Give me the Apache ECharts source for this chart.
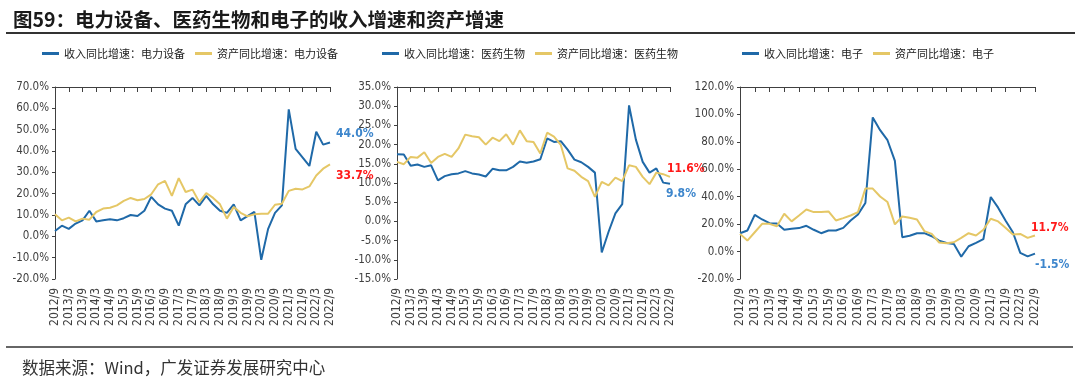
<!DOCTYPE html>
<html><head><meta charset="utf-8">
<script src="https://cdn.jsdelivr.net/npm/echarts@6/dist/echarts.min.js"></script>
<style>html,body{margin:0;padding:0;background:#fff}#c{width:1080px;height:381px}</style>
</head><body><div id="c"></div>
<script>
const categories = ['2012/9','2012/12','2013/3','2013/6','2013/9','2013/12','2014/3','2014/6','2014/9','2014/12',
'2015/3','2015/6','2015/9','2015/12','2016/3','2016/6','2016/9','2016/12','2017/3','2017/6','2017/9','2017/12',
'2018/3','2018/6','2018/9','2018/12','2019/3','2019/6','2019/9','2019/12','2020/3','2020/6','2020/9','2020/12',
'2021/3','2021/6','2021/9','2021/12','2022/3','2022/6','2022/9'];

const elecEquipRevenue = [2.5,5,3.5,6,7.5,12,7,7.5,8,7.5,8.5,10,9.5,12,18.5,15,13,12,5,15,18,14.5,19,15,12,11,15,7.5,9.5,11.5,-11,3.5,11,14.5,59.5,41,37,33,49,43,44.0];
const elecEquipAssets = [10.3,7.5,8.8,7,8.3,7.8,11.4,13,13.4,14.5,16.6,18,16.9,17.5,19.7,24.4,26,19,27.3,20.8,21.9,16,20.3,18,15,8.3,13.8,11,9.4,10.3,10.6,10.6,14.8,15.3,21.3,22.3,22,23.4,28.5,31.7,33.7];

const pharmaRevenue = [17.5,17.4,14.5,14.8,14.2,14.6,10.7,11.8,12.3,12.5,13.1,12.5,12.2,11.7,13.7,13.3,13.3,14.2,15.6,15.3,15.6,16.2,21.6,20.7,20.9,18.7,16.1,15.4,14.2,12.7,-8.1,-2.7,2.1,4.5,30.2,21.3,15.5,12.7,13.8,10.1,9.8];
const pharmaAssets = [15.5,14.9,16.8,16.6,18,15.2,16.8,17.6,16.8,19,22.6,22.2,21.9,20,21.8,20.9,22.7,20,23.7,20.9,20.7,17.7,23.1,22.1,19.9,13.8,13.2,11.6,10.5,6.4,10.3,9.4,11.4,10.5,14.6,14.2,11.6,9.7,12.7,12.3,11.6];

const electronicsRevenue = [13.4,15.4,26.8,23.4,20.7,20.5,15.9,16.6,17.1,18.8,15.9,13.4,15.4,15.4,17.3,22.7,27.1,35.4,97.8,88.5,81.2,66.1,10.5,11.5,13.4,13.4,11.2,8,6.3,5.6,-3.7,3.9,6.3,9,39.8,32,22.7,14.1,-1,-3.5,-1.5];
const electronicsAssets = [12.9,8,14.1,20.2,20.2,18.5,27.6,22,26.3,30.7,28.8,28.8,29.3,22.7,24.4,26.3,28.8,45.9,45.9,40.2,36.1,19.8,25.6,24.6,23.4,14.9,12.9,6.6,6.1,6.8,10,13.4,11.7,15.9,23.9,22,17.3,12.4,12.9,10,11.7];

const seriesNames = [
  ['收入同比增速：电力设备','资产同比增速：电力设备'],
  ['收入同比增速：医药生物','资产同比增速：医药生物'],
  ['收入同比增速：电子','资产同比增速：电子']
];
const yRanges = [[-20,70,10],[-15,35,5],[-20,120,20]];

const BLUE = '#1f69a8', YELLOW = '#e5c766';
const NUM_FONT = "'Liberation Sans Narrow','Arial Narrow','DejaVu Sans Condensed','Liberation Sans',Arial,sans-serif";
const CJK_FONT = "'Noto Sans CJK SC','Noto Sans',sans-serif";
const AX = '#404040';

const panels = [
  {left:55, width:275, legendLeft:42, data:[elecEquipRevenue, elecEquipAssets], lab:[[6,-9],[6,11]]},
  {left:397, width:273, legendLeft:382, data:[pharmaRevenue, pharmaAssets], lab:[[-4,10],[-3,-8]]},
  {left:740, width:295, legendLeft:742, data:[electronicsRevenue, electronicsAssets], lab:[[0,11],[-4,-8]]}
];

const grid=[], xAxis=[], yAxis=[], series=[], legend=[];
panels.forEach((p,k)=>{
  grid.push({left:p.left, top:87, width:p.width, height:192});
  xAxis.push({gridIndex:k, type:'category', data:categories, boundaryGap:false, position:'bottom',
    axisLine:{show:false}, axisTick:{show:false},
    axisLabel:{interval:1, rotate:90, margin:9, fontSize:12, color:AX, fontFamily:NUM_FONT}});
  xAxis.push({gridIndex:k, type:'category', data:categories, boundaryGap:false, position:'top',
    axisLine:{show:true, onZero:true, lineStyle:{color:AX, width:1}},
    axisTick:{show:true, interval:1, inside:true, length:5, lineStyle:{color:AX}},
    axisLabel:{show:false}});
  const r = yRanges[k];
  yAxis.push({gridIndex:k, type:'value', min:r[0], max:r[1], interval:r[2],
    axisLine:{show:true, lineStyle:{color:AX}}, axisTick:{show:true, length:3, lineStyle:{color:AX}},
    splitLine:{show:false},
    axisLabel:{margin:6, fontSize:11.5, color:AX, fontFamily:NUM_FONT, formatter:v=>v.toFixed(1)+'%'}});
  [0,1].forEach(j=>{
    const col = j===0?BLUE:YELLOW;
    series.push({type:'line', name:seriesNames[k][j], xAxisIndex:2*k, yAxisIndex:k, data:p.data[j],
      symbol:'none', lineStyle:{width:2, color:col}, itemStyle:{color:col},
      endLabel:{show:true, distance:0, offset:p.lab[j], fontSize:12, fontWeight:'bold', fontFamily:NUM_FONT,
        color: j===0?'#3d86cc':'#ff1a1a', formatter:q=>q.value.toFixed(1)+'%'}});
  });
  legend.push({data:seriesNames[k], left:p.legendLeft, top:48, padding:0, icon:'rect', itemWidth:17, itemHeight:3,
    itemGap:10, textStyle:{fontSize:11, color:'#222', fontFamily:CJK_FONT}});
});

const chart = echarts.init(document.getElementById('c'), null, {renderer:'canvas'});
chart.setOption({
  animation:false,
  backgroundColor:'#fff',
  title:[
    {text:'图59：电力设备、医药生物和电子的收入增速和资产增速', left:8, top:5,
     textStyle:{fontSize:19.5, fontWeight:'bold', color:'#1a1a1a', fontFamily:CJK_FONT}},
    {text:'数据来源：Wind，广发证券发展研究中心', left:17, top:354,
     textStyle:{fontSize:16.5, fontWeight:'normal', color:'#333', fontFamily:CJK_FONT}}
  ],
  graphic:[
    {type:'line', shape:{x1:6,y1:33,x2:1075,y2:33}, style:{stroke:'#333', lineWidth:2}},
    {type:'line', shape:{x1:6,y1:347,x2:1073,y2:347}, style:{stroke:'#333', lineWidth:1.5}}
  ],
  legend, grid, xAxis, yAxis, series
});
</script></body></html>
